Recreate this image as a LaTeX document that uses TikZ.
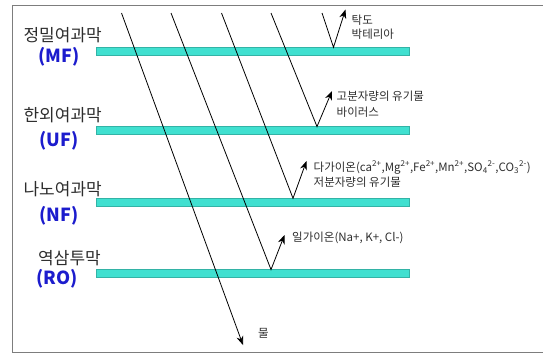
\documentclass[tikz,border=0pt]{standalone}
\usepackage{fontspec}
\setmainfont{Noto Sans CJK KR}
\usetikzlibrary{arrows.meta}

\definecolor{membranecyan}{RGB}{64,224,208}
\definecolor{codeblue}{RGB}{28,28,205}
\definecolor{framegray}{RGB}{125,125,125}
\definecolor{textgray}{RGB}{45,45,45}

\begin{document}
\begin{tikzpicture}[x=1pt,y=-1pt,>={Stealth[length=9pt,width=7pt]},
    membrane/.style={fill=membranecyan,draw=membranecyan!80!black,line width=0.4pt,
      minimum width=313pt,minimum height=7.5pt,inner sep=0pt},
    kname/.style={anchor=east,inner sep=0pt,text=textgray,
      font=\fontsize{17}{19}\selectfont},
    code/.style={inner sep=0pt,text=codeblue,font=\fontsize{18}{20}\selectfont\bfseries},
    note/.style={anchor=west,inner sep=0pt,align=left,text=textgray},
    flow/.style={line width=0.8pt}]
    \useasboundingbox (0,0) rectangle (543,354);
    \draw[framegray,line width=0.9pt] (543,5.5) -- (12.5,5.5) -- (12.5,352.5) -- (543,352.5);

    % membranes
    \node[membrane] (mfbar) at (252.5,51) {};
    \node[membrane] (ufbar) at (252.5,130.3) {};
    \node[membrane] (nfbar) at (252.5,202) {};
    \node[membrane] (robar) at (252.5,273.3) {};

    % names on the left
    \node[kname] (mfname) at (102,35) {정밀여과막};
    \node[code] (mfcode) at (59,57) {(MF)};
    \node[kname] (ufname) at (102,115) {한외여과막};
    \node[code] (ufcode) at (59,141) {(UF)};
    \node[kname] (nfname) at (102,189) {나노여과막};
    \node[code] (nfcode) at (59,216) {(NF)};
    \node[kname] (roname) at (101,258) {역삼투막};
    \node[code] (rocode) at (57,279) {(RO)};

    % what each membrane holds back
    \node[note,font=\fontsize{11.5}{14.5}\selectfont] (mfnote) at (351.5,27.3)
      {탁도\\박테리아};
    \node[note,font=\fontsize{11.5}{15.5}\selectfont] (ufnote) at (336.5,104)
      {고분자량의 유기물\\바이러스};
    \node[note,font=\fontsize{11.5}{15}\selectfont] (nfnote) at (313.5,174.2)
      {다가이온(ca\textsuperscript{2+},Mg\textsuperscript{2+},Fe\textsuperscript{2+},Mn\textsuperscript{2+},SO\textsubscript{4}\textsuperscript{2-},CO\textsubscript{3}\textsuperscript{2-})\\저분자량의 유기물};
    \node[note,font=\fontsize{11.5}{14}\selectfont] (ronote) at (292,238.3)
      {일가이온(Na+, K+, Cl-)};
    \node[inner sep=0pt,text=textgray,font=\fontsize{11.5}{13}\selectfont] (water) at (263.5,333) {물};

    % flow paths
    \coordinate (top1) at (121.5,13);
    \coordinate (top2) at (171,13);
    \coordinate (top3) at (221.5,13);
    \coordinate (top4) at (271,13);
    \coordinate (top5) at (322,13);
    \coordinate (out1) at (243,345);
    \coordinate (hit2) at (271,269.6);
    \coordinate (hit3) at (293,198.3);
    \coordinate (hit4) at (317,126.6);
    \coordinate (hit5) at (333.5,47.3);
    \coordinate (back2) at (284.5,235);
    \coordinate (back3) at (306.5,161);
    \coordinate (back4) at (332,91);
    \coordinate (back5) at (345.5,9.5);

    \draw[flow,->] (top1) -- (out1);
    \draw[flow,->] (top2) -- (hit2) -- (back2);
    \draw[flow,->] (top3) -- (hit3) -- (back3);
    \draw[flow,->] (top4) -- (hit4) -- (back4);
    \draw[flow,->] (top5) -- (hit5) -- (back5);
  \end{tikzpicture}
\end{document}
